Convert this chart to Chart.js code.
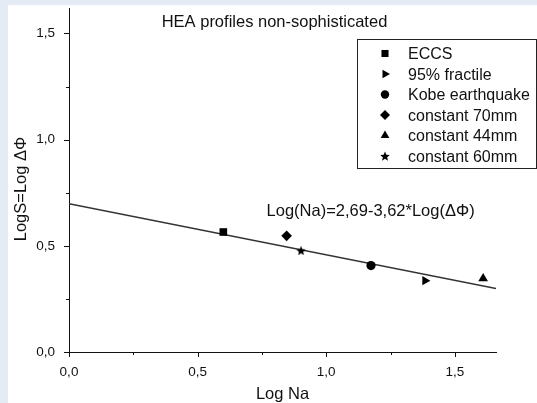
<!DOCTYPE html>
<html><head><meta charset="utf-8">
<script src="https://cdn.jsdelivr.net/npm/chart.js@4/dist/chart.umd.min.js"></script>
<style>html,body{margin:0;padding:0;background:#e5ebf5;}canvas{display:block;}</style>
</head><body>
<canvas id="c" width="537" height="403"></canvas>
<script>
// ---- data ----
const seriesNames = ['ECCS', '95% fractile', 'Kobe earthquake', 'constant 70mm', 'constant 44mm', 'constant 60mm'];
const logNa = [0.600, 1.384, 1.174, 0.846, 1.610, 0.902];
const logS  = [0.565, 0.336, 0.407, 0.547, 0.346, 0.478];
const fitX = [0, 1.66];
const fitY = [0.698, 0.299];
const xTickValues = [0, 0.25, 0.5, 0.75, 1.0, 1.25, 1.5];
const yTickValues = [0, 0.25, 0.5, 0.75, 1.0, 1.25, 1.5];
const titleText = 'HEA profiles non-sophisticated';
const fitLabel = 'Log(Na)=2,69-3,62*Log(ΔΦ)';
const fitLabelAt = [0.768, 0.642];
const xTitle = 'Log Na';
const yTitle = 'LogS=Log ΔΦ';

const FONT = '"Liberation Sans", Arial, sans-serif';
const INK = '#111';

function makeStar(size) {
  const c = document.createElement('canvas');
  c.width = size; c.height = size;
  const g = c.getContext('2d');
  g.fillStyle = '#000';
  g.beginPath();
  const R = size / 2, r = R * 0.45, cx = size / 2, cy = size / 2 + 0.6;
  for (let i = 0; i < 10; i++) {
    const a = -Math.PI / 2 + i * Math.PI / 5;
    const rr = i % 2 ? r : R;
    g.lineTo(cx + rr * Math.cos(a), cy + rr * Math.sin(a));
  }
  g.closePath(); g.fill();
  return c;
}
const starImg = makeStar(10);

const styles = [
  {pointStyle: 'rect', rotation: 0, radius: 5.4},
  {pointStyle: 'triangle', rotation: 90, radius: 5.4},
  {pointStyle: 'circle', rotation: 0, radius: 4.6},
  {pointStyle: 'rectRot', rotation: 0, radius: 5.3},
  {pointStyle: 'triangle', rotation: 0, radius: 5.6},
  {pointStyle: starImg, rotation: 0, radius: 4.5}
];
const legendStyles = [
  {pointStyle: 'rect', rotation: 0, radius: 5.0},
  {pointStyle: 'triangle', rotation: 90, radius: 5.0},
  {pointStyle: 'circle', rotation: 0, radius: 4.2},
  {pointStyle: 'rectRot', rotation: 0, radius: 5.0},
  {pointStyle: 'triangle', rotation: 0, radius: 5.0},
  {pointStyle: starImg, rotation: 0, radius: 4.5}
];

const datasets = seriesNames.map((name, i) => ({
  label: name,
  data: [{x: logNa[i], y: logS[i]}],
  pointStyle: styles[i].pointStyle,
  rotation: styles[i].rotation,
  pointRadius: styles[i].radius,
  backgroundColor: '#000',
  borderColor: '#000',
  borderWidth: 0,
  showLine: false
}));
datasets.push({
  label: 'fit',
  data: fitX.map((x, i) => ({x: x, y: fitY[i]})),
  showLine: true,
  borderColor: '#333',
  borderWidth: 1.6,
  pointRadius: 0,
  fill: false
});

const fmt = v => v.toFixed(1).replace('.', ',');
const isMajor = v => Math.abs(v * 2 - Math.round(v * 2)) < 1e-6;

function drawMarker(ctx, st, x, y) {
  const opts = {pointStyle: st.pointStyle, rotation: st.rotation, radius: st.radius, borderWidth: 0};
  ctx.save();
  ctx.fillStyle = '#000';
  ctx.strokeStyle = '#000';
  Chart.helpers.drawPoint(ctx, opts, x, y);
  ctx.restore();
}

const deco = {
  id: 'deco',
  beforeDraw(chart) {
    const ctx = chart.ctx;
    ctx.save();
    ctx.fillStyle = '#e5ebf5';
    ctx.fillRect(0, 0, chart.width, chart.height);
    ctx.fillStyle = '#ffffff';
    ctx.fillRect(8, 5, chart.width - 8, chart.height - 5);
    ctx.restore();
  },
  afterDraw(chart) {
    const ctx = chart.ctx;
    const xs = chart.scales.x, ys = chart.scales.y;
    const a = chart.chartArea;
    ctx.save();
    // tick marks
    ctx.strokeStyle = INK; ctx.lineWidth = 1;
    xTickValues.forEach(v => {
      const px = Math.round(xs.getPixelForValue(v)) + 0.5;
      const len = isMajor(v) ? 5 : 3;
      ctx.beginPath(); ctx.moveTo(px, a.bottom); ctx.lineTo(px, a.bottom + len); ctx.stroke();
    });
    yTickValues.forEach(v => {
      const py = Math.round(ys.getPixelForValue(v)) + 0.5;
      const len = isMajor(v) ? 5 : 3;
      ctx.beginPath(); ctx.moveTo(a.left, py); ctx.lineTo(a.left - len, py); ctx.stroke();
    });
    // title
    ctx.fillStyle = INK;
    ctx.font = '16.5px ' + FONT;
    ctx.textAlign = 'center'; ctx.textBaseline = 'alphabetic';
    ctx.fillText(titleText, 274.5, 27);
    // x title
    ctx.fillText(xTitle, (a.left + a.right) / 2, 399);
    // y title
    ctx.save();
    ctx.translate(26, 189);
    ctx.rotate(-Math.PI / 2);
    ctx.fillText(yTitle, 0, 0);
    ctx.restore();
    // fit annotation
    ctx.textAlign = 'left';
    ctx.fillText(fitLabel, xs.getPixelForValue(fitLabelAt[0]), ys.getPixelForValue(fitLabelAt[1]));
    // legend
    ctx.strokeStyle = '#222'; ctx.lineWidth = 1;
    ctx.strokeRect(357.5, 39.5, 179, 129);
    ctx.font = '16px ' + FONT;
    seriesNames.forEach((name, i) => {
      const base = 59 + i * 20.5;
      drawMarker(ctx, legendStyles[i], 385, base - 5.5);
      ctx.fillStyle = INK;
      ctx.fillText(name, 408, base);
    });
    ctx.restore();
  }
};

new Chart(document.getElementById('c'), {
  type: 'scatter',
  data: {datasets: datasets},
  options: {
    responsive: false,
    animation: false,
    devicePixelRatio: 1,
    layout: {padding: {left: 0, top: 8, right: 41, bottom: 0}},
    plugins: {legend: {display: false}, tooltip: {enabled: false}, title: {display: false}},
    scales: {
      x: {
        type: 'linear', min: 0, max: 1.66,
        afterBuildTicks: s => { s.ticks = xTickValues.filter(isMajor).map(v => ({value: v})); },
        afterFit: s => { s.height = 51; s.paddingLeft = 0; s.paddingRight = 0; },
        grid: {display: false},
        border: {display: true, color: INK, width: 1},
        ticks: {padding: 4, color: INK, font: {family: FONT, size: 13.5}, callback: v => fmt(v), maxRotation: 0, autoSkip: false}
      },
      y: {
        type: 'linear', min: 0, max: 1.62,
        afterBuildTicks: s => { s.ticks = yTickValues.filter(isMajor).map(v => ({value: v})); },
        afterFit: s => { s.width = 69; s.paddingTop = 0; s.paddingBottom = 0; },
        grid: {display: false},
        border: {display: true, color: INK, width: 1},
        ticks: {padding: 6, color: INK, font: {family: FONT, size: 13.5}, callback: v => fmt(v), autoSkip: false}
      }
    }
  },
  plugins: [deco]
});
</script>
</body></html>
